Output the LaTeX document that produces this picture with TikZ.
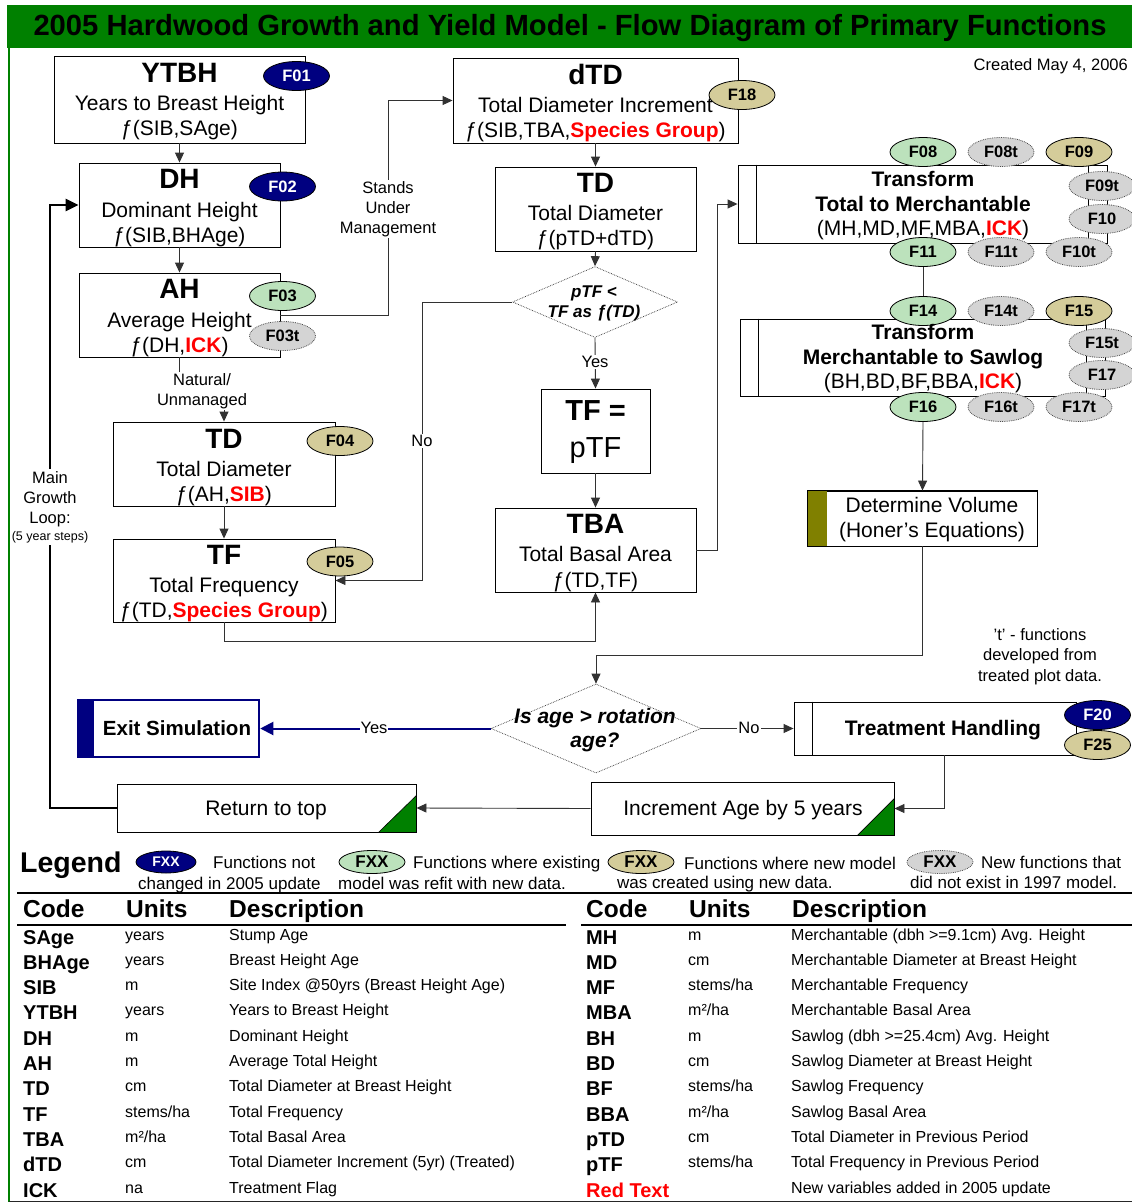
\documentclass[tikz,border=0pt]{standalone}
\usepackage{fontspec}
\setmainfont{Liberation Sans}
\usetikzlibrary{arrows.meta,shapes.geometric,calc}
\definecolor{navyb}{RGB}{0,0,128}
\definecolor{lgreen}{RGB}{188,226,188}
\definecolor{khaki}{RGB}{212,204,154}
\definecolor{lgrey}{RGB}{212,212,212}
\definecolor{dgreen}{RGB}{0,128,0}
\definecolor{olivebar}{RGB}{128,128,0}
\definecolor{lnc}{RGB}{50,50,50}
\newcommand\fz[2]{\fontsize{#1}{#2}\selectfont}
\newcommand\rd[1]{\textcolor{red}{\bfseries #1}}
\newcommand\stha{stems/ha}
\newcommand\msq{m²/ha}
\begin{document}
\begin{tikzpicture}[x=1pt,y=-1pt,
  lb/.style={inner sep=0pt, anchor=base},
  bx/.style={draw=black, line width=0.9pt, fill=white, inner sep=0pt},
  ttl/.style={lb, font=\fz{28}{30}\bfseries},
  sub/.style={lb, font=\fz{21}{24}},
  subb/.style={lb, font=\fz{21}{24}\bfseries},
  fe/.style={ellipse, minimum width=66pt, minimum height=29pt, inner sep=0pt, font=\fz{16.5}{18}\bfseries, line width=0.8pt},
  fnavy/.style={fe, fill=navyb, draw=black, text=white},
  fgreen/.style={fe, fill=lgreen, draw=black},
  fkhaki/.style={fe, fill=khaki, draw=black},
  fgrey/.style={fe, fill=lgrey, draw=black!70, densely dotted},
  arr/.style={draw=lnc, line width=0.9pt, -{Triangle[length=10pt,width=9pt]}},
  ln/.style={draw=lnc, line width=0.9pt},
  sm/.style={font=\fz{16.5}{20}, align=center, fill=white, inner sep=1pt},
  dia/.style={diamond, draw=black!80, densely dotted, line width=0.7pt, fill=white, inner sep=0pt},
  tc/.style={lb, anchor=base west, font=\fz{20}{22}\bfseries},
  tu/.style={lb, anchor=base west, font=\fz{16}{18}},
  th/.style={lb, anchor=base west, font=\fz{24.5}{26}\bfseries},
  lg/.style={lb, anchor=base west, font=\fz{17}{19}}
]
\useasboundingbox (0,0) rectangle (1132,1203);
\fill[white] (0,0) rectangle (1132,1203);
% frame and title
\fill[dgreen] (7,5) rectangle (1132,48);
\draw[dgreen, line width=2pt] (8.5,48) -- (8.5,1202);
\draw[black!85, line width=1.5pt] (8.5,1201.5) -- (1132,1201.5);
\node[lb, font=\fz{29.2}{31}\bfseries] (title) at (570,35) {2005 Hardwood Growth and Yield Model - Flow Diagram of Primary Functions};
\node[lb, anchor=base east, font=\fz{16.5}{18}] (created) at (1128,70) {Created May 4, 2006};

% boxes
\node[bx, minimum width=251pt, minimum height=87pt] (ytbh) at (179.5,99.5) {};
\node[bx, minimum width=201pt, minimum height=84pt] (dh) at (179.5,205) {};
\node[bx, minimum width=201pt, minimum height=84pt] (ah) at (179.5,315) {};
\node[bx, minimum width=222pt, minimum height=84pt] (tdl) at (224,464) {};
\node[bx, minimum width=222pt, minimum height=83pt] (tfl) at (224,580.5) {};
\node[bx, minimum width=285pt, minimum height=85pt] (dtd) at (595.5,100.5) {};
\node[bx, minimum width=201pt, minimum height=84pt] (tdm) at (595.5,209) {};
\node[dia, minimum width=165pt, minimum height=71pt] (dia1) at (595,302) {};
\node[bx, minimum width=109pt, minimum height=84pt] (tfeq) at (595.5,431) {};
\node[bx, minimum width=201pt, minimum height=84pt] (tba) at (595.5,550) {};
\node[bx, minimum width=369pt, minimum height=78pt] (tr1) at (922.5,204) {};
\draw[black, line width=0.9pt] ($(tr1.north west)+(19,0)$) -- ($(tr1.south west)+(19,0)$);
\draw[black, line width=0.9pt] ($(tr1.north east)+(-19,0)$) -- ($(tr1.south east)+(-19,0)$);
\node[bx, minimum width=365pt, minimum height=77pt] (tr2) at (922.5,357.5) {};
\draw[black, line width=0.9pt] ($(tr2.north west)+(19,0)$) -- ($(tr2.south west)+(19,0)$);
\draw[black, line width=0.9pt] ($(tr2.north east)+(-19,0)$) -- ($(tr2.south east)+(-19,0)$);
\node[bx, minimum width=229pt, minimum height=55pt] (vol) at (922.5,518.5) {};
\fill[olivebar] (vol.north west) rectangle ($(vol.south west)+(19,0)$);
\draw[black, line width=0.9pt] (vol.north west) rectangle (vol.south east);
\node[dia, minimum width=210pt, minimum height=89pt] (dia2) at (596,728.5) {};
\node[bx, draw=navyb, line width=2.5pt, minimum width=181pt, minimum height=57pt] (exit) at (168.5,728.5) {};
\fill[navyb] (exit.north west) rectangle ($(exit.south west)+(17,0)$);
\node[bx, minimum width=282pt, minimum height=53pt] (treat) at (935,728.5) {};
\draw[black, line width=0.9pt] ($(treat.north west)+(19,0)$) -- ($(treat.south west)+(19,0)$);
\node[bx, minimum width=303pt, minimum height=53pt] (inc) at (742.5,808.5) {};
\fill[dgreen, draw=black, line width=0.6pt] (inc.south east) -- ($(inc.south east)+(0,-37)$) -- ($(inc.south east)+(-37,0)$) -- cycle;
\node[bx, minimum width=299pt, minimum height=48pt] (ret) at (266.5,808) {};
\fill[dgreen, draw=black, line width=0.6pt] (ret.south east) -- ($(ret.south east)+(0,-37)$) -- ($(ret.south east)+(-38,0)$) -- cycle;

% ellipses
\node[fnavy] (f01) at (296.5,76) {F01};
\node[fnavy] (f02) at (282.5,186.5) {F02};
\node[fgreen] (f03) at (282.5,296) {F03};
\node[fgrey] (f03t) at (282.5,336) {F03t};
\node[fkhaki] (f04) at (340,441) {F04};
\node[fkhaki] (f05) at (340,561.5) {F05};
\node[fkhaki] (f18) at (742,95) {F18};
\node[fgreen] (f08) at (923,152) {F08};
\node[fgrey] (f08t) at (1001,152) {F08t};
\node[fkhaki] (f09) at (1079,152) {F09};
\node[fgrey] (f09t) at (1102,186) {F09t};
\node[fgrey] (f10) at (1102,219) {F10};
\node[fgreen] (f11) at (923,252) {F11};
\node[fgrey] (f11t) at (1001,252) {F11t};
\node[fgrey] (f10t) at (1079,252) {F10t};
\node[fgreen] (f14) at (923,311) {F14};
\node[fgrey] (f14t) at (1001,311) {F14t};
\node[fkhaki] (f15) at (1079,311) {F15};
\node[fgrey] (f15t) at (1102,343) {F15t};
\node[fgrey] (f17) at (1102,375) {F17};
\node[fgreen] (f16) at (923,407) {F16};
\node[fgrey] (f16t) at (1001,407) {F16t};
\node[fgrey] (f17t) at (1079,407) {F17t};
\node[fnavy] (f20) at (1097.5,715) {F20};
\node[fkhaki] (f25) at (1097.5,745) {F25};

% connectors
\coordinate (c1) at (388,100.5);
\coordinate (c2) at (224,389);
\coordinate (nob) at (422,302);
\coordinate (c3) at (717,204);
\coordinate (c4) at (596,655);
\coordinate (c5) at (944,808.5);
\coordinate (c6) at (50,808);
\draw[arr] (ytbh) -- (dh);
\draw[arr] (dh) -- (ah);
\draw[arr] (ah.east) -| (c1) -- (dtd.west);
\draw[arr] (ah.south) |- (c2) -- (tdl.north);
\draw[arr] (tdl) -- (tfl);
\draw[arr] (tfl.south) -- ++(0,19) -| (tba.south);
\draw[arr] (dtd) -- (tdm);
\draw[arr] (tdm.south) -- (dia1.north);
\draw[arr] (dia1.south) -- (tfeq.north);
\draw[arr] (dia1.west) -- (nob) |- (tfl.east);
\draw[arr] (tfeq) -- (tba);
\draw[arr] (tba.east) -| (c3) -- (tr1.west);
\draw[ln] (f11.south) -- (f14.north);
\draw[arr] (f16.south) -- (vol.north);
\draw[arr] (vol.south) |- (c4) -- (dia2.north);
\draw[draw=navyb, line width=2pt, -{Triangle[length=13pt,width=13pt]}] (dia2.west) -- (exit.east);
\draw[arr] (dia2.east) -- (treat.west);
\draw[arr] (treat.south -| c5) -- (c5) -- (inc.east);
\draw[arr] (inc.west) -- (ret.east);
\draw[draw=black, line width=2.5pt, -{Triangle[length=13pt,width=12pt]}] (ret.west) -- (c6) |- (dh.west);

% connector labels
\node[sm] (lstands) at (388,209) {Stands\\Under\\Management};
\node[sm] (lnat) at (202,391) {Natural/\\Unmanaged};
\node[sm] (lno1) at (422,441) {No};
\node[sm] (lyes1) at (595,362) {Yes};
\node[sm] (lyes2) at (374,728) {Yes};
\node[sm] (lno2) at (749,728) {No};
\node[sm, inner sep=2pt] (lloop) at (50,507) {Main\\Growth\\Loop:\\[-3pt]{\fz{12.5}{14}(5 year steps)}};
\node[lb, font=\fz{16.5}{20}] (tf1) at (1040,640) {'t' - functions};
\node[lb, font=\fz{16.5}{20}] (tf2) at (1040,660) {developed from};
\node[lb, font=\fz{16.5}{20}] (tf3) at (1040,681) {treated plot data.};

% box texts
\node[ttl] (t1a) at (179.5,82) {YTBH};
\node[sub] (t1b) at (179.5,110) {Years to Breast Height};
\node[sub] (t1c) at (179.5,135) {ƒ(SIB,SAge)};
\node[ttl] (t2a) at (179.5,188) {DH};
\node[sub] (t2b) at (179.5,217) {Dominant Height};
\node[sub] (t2c) at (179.5,242) {ƒ(SIB,BHAge)};
\node[ttl] (t3a) at (179.5,298) {AH};
\node[sub] (t3b) at (179.5,327) {Average Height};
\node[sub] (t3c) at (179.5,352) {ƒ(DH,\rd{ICK})};
\node[ttl] (t4a) at (224,448) {TD};
\node[sub] (t4b) at (224,476) {Total Diameter};
\node[sub] (t4c) at (224,501) {ƒ(AH,\rd{SIB})};
\node[ttl] (t5a) at (224,564) {TF};
\node[sub] (t5b) at (224,592) {Total Frequency};
\node[sub] (t5c) at (224,617) {ƒ(TD,\rd{Species Group})};
\node[ttl] (t6a) at (595.5,84) {dTD};
\node[sub] (t6b) at (595.5,112) {Total Diameter Increment};
\node[sub] (t6c) at (595.5,137) {ƒ(SIB,TBA,\rd{Species Group})};
\node[ttl] (t7a) at (595.5,192) {TD};
\node[sub] (t7b) at (595.5,220) {Total Diameter};
\node[sub] (t7c) at (595.5,245) {ƒ(pTD+dTD)};
\node[lb, font=\fz{17}{19}\bfseries\itshape] (t8a) at (594,297) {pTF <};
\node[lb, font=\fz{17}{19}\bfseries\itshape] (t8b) at (594,317) {TF as ƒ(TD)};
\node[lb, font=\fz{29}{31}\bfseries] (t9a) at (595.5,420) {TF =};
\node[lb, font=\fz{29}{31}] (t9b) at (595.5,457) {pTF};
\node[ttl] (t10a) at (595.5,533) {TBA};
\node[sub] (t10b) at (595.5,561) {Total Basal Area};
\node[sub] (t10c) at (595.5,587) {ƒ(TD,TF)};
\node[subb] (t11a) at (923,186) {Transform};
\node[subb] (t11b) at (923,211) {Total to Merchantable};
\node[sub] (t11c) at (923,235) {(MH,MD,MF,MBA,\rd{ICK})};
\node[subb] (t12a) at (923,339) {Transform};
\node[subb] (t12b) at (923,364) {Merchantable to Sawlog};
\node[sub] (t12c) at (923,388) {(BH,BD,BF,BBA,\rd{ICK})};
\node[sub] (t13a) at (932,512) {Determine Volume};
\node[sub] (t13b) at (932,537) {(Honer's Equations)};
\node[lb, font=\fz{21}{23}\bfseries\itshape] (t14a) at (595,723) {Is age > rotation};
\node[lb, font=\fz{21}{23}\bfseries\itshape] (t14b) at (595,747) {age?};
\node[lb, font=\fz{20.5}{23}\bfseries] (t15) at (177,735) {Exit Simulation};
\node[subb] (t16) at (943,735) {Treatment Handling};
\node[sub] (t17) at (743,815) {Increment Age by 5 years};
\node[sub] (t18) at (266,815) {Return to top};

% legend
\node[lb, anchor=base west, font=\fz{28.5}{30}\bfseries] (legend) at (20,872) {Legend};
\node[fnavy, minimum width=60pt, minimum height=22pt, font=\fz{14}{16}\bfseries] (lgn) at (166,862) {FXX};
\node[fgreen, minimum height=23pt, font=\fz{17}{19}\bfseries] (lgg) at (372,862) {FXX};
\node[fkhaki, minimum height=23pt, font=\fz{17}{19}\bfseries] (lgk) at (641,862) {FXX};
\node[fgrey, minimum height=23pt, font=\fz{17}{19}\bfseries] (lgy) at (940,862) {FXX};
\node[lg] (lg1a) at (213,868) {Functions not};
\node[lg] (lg1b) at (138,889) {changed in 2005 update};
\node[lg] (lg2a) at (413,868) {Functions where existing};
\node[lg] (lg2b) at (338,889) {model was refit with new data.};
\node[lg] (lg3a) at (684,869) {Functions where new model};
\node[lg] (lg3b) at (617,888) {was created using new data.};
\node[lg] (lg4a) at (981,868) {New functions that};
\node[lg] (lg4b) at (910,888) {did not exist in 1997 model.};

% table
\draw[black, line width=2.5pt] (17,893) -- (1132,893);
\draw[black, line width=2.5pt] (17,925) -- (566,925);
\draw[black, line width=2.5pt] (581,925) -- (1132,925);
\node[th] (h1) at (23,917) {Code};
\node[th] (h2) at (126,917) {Units};
\node[th] (h3) at (229,917) {Description};
\node[th] (h4) at (586,917) {Code};
\node[th] (h5) at (689,917) {Units};
\node[th] (h6) at (792,917) {Description};
\foreach \c/\u/\d [count=\i from 0] in {SAge/years/Stump Age, BHAge/years/Breast Height Age, SIB/m/Site Index @50yrs (Breast Height Age), YTBH/years/Years to Breast Height, DH/m/Dominant Height, AH/m/Average Total Height, TD/cm/Total Diameter at Breast Height, TF/\stha/Total Frequency, TBA/\msq/Total Basal Area, dTD/cm/Total Diameter Increment (5yr) (Treated), ICK/na/Treatment Flag}{
  \node[tc] (lc\i) at (23,944+25.3*\i) {\c};
  \node[tu] (lu\i) at (125,940+25.3*\i) {\u};
  \node[tu] (ld\i) at (229,940+25.3*\i) {\d};
}
\foreach \c/\u/\d [count=\i from 0] in {MH/m/Merchantable (dbh >=9.1cm) Avg. Height, MD/cm/Merchantable Diameter at Breast Height, MF/\stha/Merchantable Frequency, MBA/\msq/Merchantable Basal Area, BH/m/Sawlog (dbh >=25.4cm) Avg. Height, BD/cm/Sawlog Diameter at Breast Height, BF/\stha/Sawlog Frequency, BBA/\msq/Sawlog Basal Area, pTD/cm/Total Diameter in Previous Period, pTF/\stha/Total Frequency in Previous Period, \textcolor{red}{Red Text}//New variables added in 2005 update}{
  \node[tc] (rc\i) at (586,944+25.3*\i) {\c};
  \node[tu] (ru\i) at (688,940+25.3*\i) {\u};
  \node[tu] (rd\i) at (791,940+25.3*\i) {\d};
}
\end{tikzpicture}
\end{document}
